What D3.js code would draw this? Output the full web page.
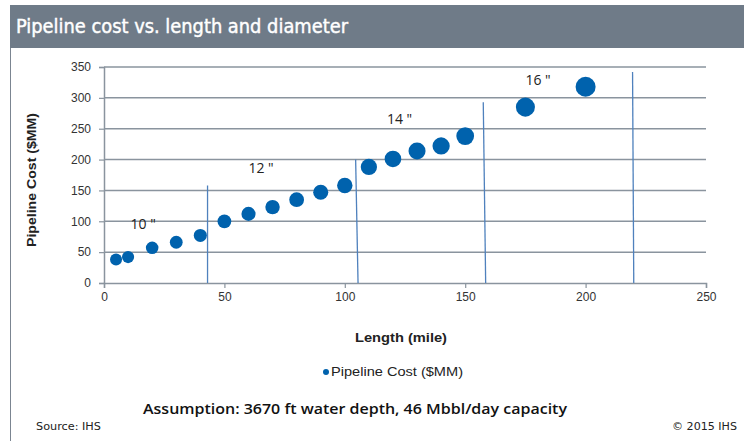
<!DOCTYPE html>
<html>
<head>
<meta charset="utf-8">
<script src="https://cdn.jsdelivr.net/npm/d3@7"></script>
<style>
  body { margin: 0; background: #fff; }
  svg { display: block; }
</style>
</head>
<body>
<svg width="744" height="441"></svg>
<script>
// data
const lengths = [5, 10, 20, 30, 40, 50, 60, 70, 80, 90, 100, 110, 120, 130, 140, 150, 175, 200];
const costs = [38, 42, 57, 66, 77, 100, 112, 123, 135, 147, 158, 188, 201, 214, 222, 238, 285, 318];
const diameterLabels = ["10 \"", "12 \"", "14 \"", "16 \""];
const labelPos = [[11, 88], [60, 178], [117.5, 258], [175, 321]];
// diameter boundaries: [x at bottom, x at top, top value]
const dividers = [[43, 43, 158], [105.5, 104.5, 200], [158.5, 157.5, 293], [220, 219.5, 342]];
const xTicks = [0, 50, 100, 150, 200, 250];
const yTicks = [0, 50, 100, 150, 200, 250, 300, 350];

const svg = d3.select("svg");
const blue = "#0062ad";
const gridCol = "#8a949e";

// frame and title bar
svg.append("line")
   .attr("x1", 10.5).attr("y1", 5)
   .attr("x2", 10.5).attr("y2", 441)
   .attr("stroke", "#7b8591")
   .attr("stroke-width", 1);
svg.append("rect")
   .attr("x", 10).attr("y", 5)
   .attr("width", 734).attr("height", 43)
   .attr("fill", "#6f7b88");
svg.append("text")
   .attr("x", 16).attr("y", 33)
   .attr("font-family", "DejaVu Sans Condensed, Liberation Sans Narrow, sans-serif")
   .attr("font-stretch", "condensed")
   .attr("font-size", "19px")
   .attr("font-weight", "normal")
   .attr("textLength", 332)
   .attr("lengthAdjust", "spacingAndGlyphs")
   .attr("fill", "#fff")
   .attr("stroke", "#fff")
   .attr("stroke-width", 0.4)
   .text("Pipeline cost vs. length  and diameter");

const x = d3.scaleLinear().domain([0, 250]).range([104, 706]);
const y = d3.scaleLinear().domain([0, 350]).range([283, 67]);
const r = d3.scaleLinear().domain([38, 318]).range([6, 10]);

// horizontal gridlines
svg.append("g")
   .selectAll("line")
   .data(yTicks.filter(d => d > 0))
   .join("line")
   .attr("x1", x(0)).attr("x2", x(250))
   .attr("y1", d => y(d)).attr("y2", d => y(d))
   .attr("stroke", gridCol)
   .attr("stroke-width", 1.5);

// axes
const yAxis = svg.append("g")
   .attr("transform", `translate(${x(0)},0)`)
   .call(d3.axisLeft(y).tickValues(yTicks).tickSize(5).tickPadding(8));
const xAxis = svg.append("g")
   .attr("transform", `translate(0,${y(0)})`)
   .call(d3.axisBottom(x).tickValues(xTicks).tickSize(5).tickPadding(4));
[xAxis, yAxis].forEach(g => {
  g.select(".domain").attr("stroke", gridCol).attr("stroke-width", 1.5);
  g.selectAll(".tick line").attr("stroke", gridCol).attr("stroke-width", 1.2);
  g.selectAll(".tick text")
   .attr("font-family", "Liberation Sans, Arial, sans-serif")
   .attr("font-size", "12px")
   .attr("fill", "#333");
});

// diameter divider lines
svg.append("g")
   .selectAll("line")
   .data(dividers)
   .join("line")
   .attr("x1", d => x(d[0])).attr("y1", y(0))
   .attr("x2", d => x(d[1])).attr("y2", d => y(d[2]))
   .attr("stroke", "#4f81bd")
   .attr("stroke-width", 1.3);

// points
svg.append("g")
   .selectAll("circle")
   .data(lengths)
   .join("circle")
   .attr("cx", d => x(d))
   .attr("cy", (d, i) => y(costs[i]))
   .attr("r", (d, i) => r(costs[i]))
   .attr("fill", blue);

// diameter labels
svg.append("g")
   .selectAll("text")
   .data(diameterLabels)
   .join("text")
   .attr("x", (d, i) => x(labelPos[i][0]))
   .attr("y", (d, i) => y(labelPos[i][1]))
   .attr("font-family", "Open Sans, Carlito, sans-serif")
   .attr("font-size", "14px")
   .attr("fill", "#222")
   .text(d => d);

// axis titles
svg.append("text")
   .attr("transform", "translate(36,180) rotate(-90)")
   .attr("text-anchor", "middle")
   .attr("font-family", "Liberation Sans, Arial, sans-serif")
   .attr("font-size", "13px")
   .attr("font-weight", "bold")
   .attr("textLength", 134)
   .attr("lengthAdjust", "spacingAndGlyphs")
   .attr("fill", "#222")
   .text("Pipeline Cost ($MM)");
svg.append("text")
   .attr("x", 401).attr("y", 342)
   .attr("text-anchor", "middle")
   .attr("font-family", "Liberation Sans, Arial, sans-serif")
   .attr("font-size", "13px")
   .attr("font-weight", "bold")
   .attr("textLength", 92)
   .attr("lengthAdjust", "spacingAndGlyphs")
   .attr("fill", "#222")
   .text("Length (mile)");

// legend
svg.append("circle")
   .attr("cx", 326).attr("cy", 372)
   .attr("r", 3)
   .attr("fill", blue);
svg.append("text")
   .attr("x", 331).attr("y", 376)
   .attr("font-family", "Liberation Sans, Arial, sans-serif")
   .attr("font-size", "12px")
   .attr("textLength", 132)
   .attr("lengthAdjust", "spacingAndGlyphs")
   .attr("fill", "#222")
   .text("Pipeline Cost ($MM)");

// footnotes
svg.append("text")
   .attr("x", 143).attr("y", 414)
   .attr("font-family", "Open Sans, Carlito, sans-serif")
   .attr("font-size", "15px")
   .attr("font-weight", "600")
   .attr("textLength", 424)
   .attr("lengthAdjust", "spacingAndGlyphs")
   .attr("fill", "#111")
   .text("Assumption:  3670 ft water depth,  46 Mbbl/day  capacity");
svg.append("text")
   .attr("x", 36).attr("y", 430)
   .attr("font-family", "DejaVu Sans Condensed, sans-serif")
   .attr("font-stretch", "condensed")
   .attr("font-size", "10.5px")
   .attr("textLength", 65)
   .attr("lengthAdjust", "spacingAndGlyphs")
   .attr("fill", "#222")
   .text("Source:  IHS");
svg.append("text")
   .attr("x", 672).attr("y", 430)
   .attr("font-family", "DejaVu Sans Condensed, sans-serif")
   .attr("font-stretch", "condensed")
   .attr("font-size", "10.5px")
   .attr("textLength", 65)
   .attr("lengthAdjust", "spacingAndGlyphs")
   .attr("fill", "#222")
   .text("© 2015  IHS");
</script>
</body>
</html>
